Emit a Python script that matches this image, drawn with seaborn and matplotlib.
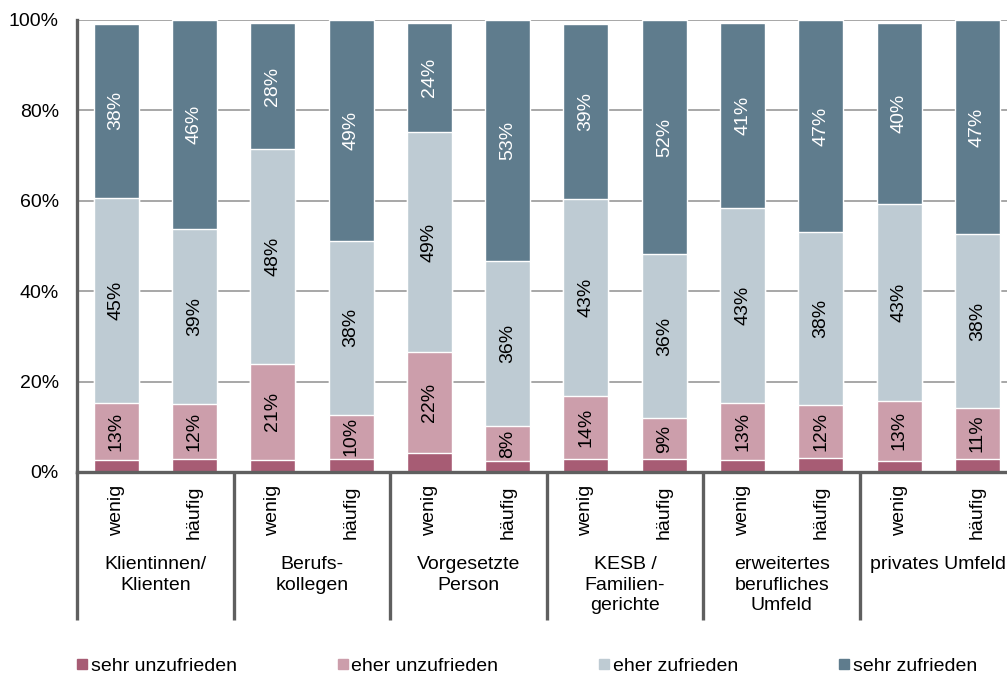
import matplotlib
matplotlib.use("Agg")
import matplotlib.pyplot as plt
from matplotlib.lines import Line2D
import numpy as np
import pandas as pd
import seaborn as sns

# groups of raters, each split by contact frequency
groups = [
    "Klientinnen/\nKlienten",
    "Berufs-\nkollegen",
    "Vorgesetzte\nPerson",
    "KESB /\nFamilien-\ngerichte",
    "erweitertes\nberufliches\nUmfeld",
    "privates Umfeld",
]
levels = ["wenig", "häufig"]
series = ["sehr unzufrieden", "eher unzufrieden", "eher zufrieden", "sehr zufrieden"]

# percentages per bar (wenig, häufig for each group)
sehr_unzufrieden = [2.7, 2.9, 2.7, 2.9, 4.2, 2.4, 2.9, 2.9, 2.7, 3.2, 2.5, 2.9]
eher_unzufrieden = [12.6, 12.1, 21.2, 9.8, 22.3, 7.8, 14.0, 9.0, 12.6, 11.6, 13.3, 11.3]
eher_zufrieden = [45.4, 38.8, 47.6, 38.4, 48.7, 36.4, 43.4, 36.3, 43.1, 38.2, 43.4, 38.4]
sehr_zufrieden = [38.4, 46.2, 27.8, 48.9, 24.1, 53.4, 38.9, 51.8, 40.9, 47.0, 40.1, 47.4]

colors = ["#A75C74", "#CC9EAB", "#BECBD3", "#5F7C8D"]
dark = "#5F5F5F"
fs = 14

sns.set_style("white")
plt.rcParams["font.family"] = ["Liberation Sans", "DejaVu Sans"]
plt.rcParams["text.color"] = "black"
plt.rcParams["ytick.labelcolor"] = "black"

vals = np.array([sehr_unzufrieden, eher_unzufrieden, eher_zufrieden, sehr_zufrieden])
cum = np.cumsum(vals, axis=0)
keys = [f"{g}|{l}" for g in range(len(groups)) for l in levels]

fig = plt.figure(figsize=(10.07, 6.75), dpi=100)
ax = fig.add_axes([77 / 1007, 203 / 675, 939.6 / 1007, 452 / 675])

# stacked bars: draw cumulative totals from the top down
for k in reversed(range(len(series))):
    df = pd.DataFrame({"key": keys, "cum": cum[k]})
    sns.barplot(data=df, x="key", y="cum", order=keys, color=colors[k],
                width=0.575, saturation=1, errorbar=None, ax=ax)

for k in range(1, len(series)):
    for i in range(len(keys)):
        mid = cum[k][i] - vals[k][i] / 2
        ax.text(i, mid, f"{round(vals[k][i])}%", rotation=90, ha="center",
                va="center", fontsize=fs,
                color="white" if k == 3 else "black")

ax.set_xlim(-0.5, len(keys) - 0.5)
ax.set_ylim(0, 100)
ax.set_xlabel("")
ax.set_ylabel("")
ax.set_xticks([])
ax.set_yticks(range(0, 101, 20))
ax.set_yticklabels([f"{v}%" for v in range(0, 101, 20)], fontsize=fs, color="black")
ax.tick_params(axis="y", length=0, pad=13)
ax.set_axisbelow(True)
ax.yaxis.grid(True, color="#A0A0A0", lw=1.3)
for s in ["top", "right"]:
    ax.spines[s].set_visible(False)
for s in ["left", "bottom"]:
    ax.spines[s].set_color(dark)
    ax.spines[s].set_linewidth(2.4)

trans = ax.get_xaxis_transform()
for g in range(len(groups) + 1):
    xb = 2 * g - 0.5
    ax.plot([xb, xb], [0, -0.327], transform=trans, color=dark, lw=2.4,
            clip_on=False, solid_capstyle="butt")
for i, key in enumerate(keys):
    ax.text(i, -0.029, levels[i % 2], transform=trans, rotation=90,
            ha="center", va="top", fontsize=fs)
for g, name in enumerate(groups):
    ax.text(2 * g + 0.5, -0.186, name, transform=trans, ha="center",
            va="top", fontsize=fs, linespacing=1.28)

handles = [Line2D([], [], marker="s", ls="", color=c, markersize=6.6) for c in colors]
fig.legend(handles, series, loc="center left", bbox_to_anchor=(0.0755, 1 - 666 / 675),
           ncol=4, frameon=False, fontsize=fs, columnspacing=5.15,
           handlelength=0.6, handletextpad=0.15, borderaxespad=0, borderpad=0)

fig.savefig("out.png", dpi=100)
